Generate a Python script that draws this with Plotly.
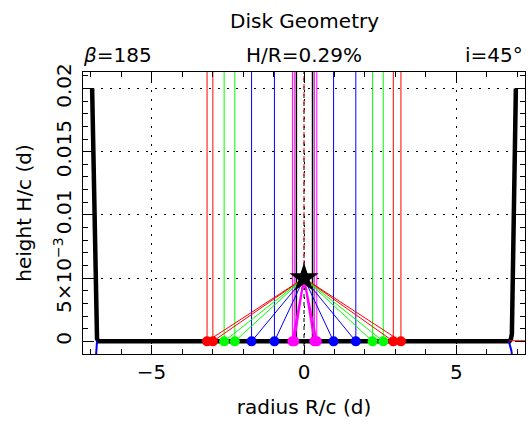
import plotly.graph_objects as go

# Disk surface profile H(R)
disk_r = [-6.95, -6.82, -6.79, -6.74, 6.74, 6.79, 6.82, 6.95]
disk_h = [0.020, 0.0006, 0.0002, 0.0, 0.0, 0.0002, 0.0006, 0.020]

# Lower-side edge traces at the disk rim
rim_left_r = [-6.79, -6.80, -6.82]
rim_left_h = [0.0, -0.0005, -0.001]
rim_right_r = [6.72, 6.76, 6.80, 6.82]
rim_right_h = [0.0, -0.0003, -0.0007, -0.001]
rim_red_r = [6.72, 7.3]
rim_red_h = [0.00005, 0.00005]

# Observer point and the emitting radii of each ring group
star_r = 0.0
star_h = 0.005
ring_groups = {
    "#ff0000": [-3.18, -2.99, 2.93, 3.18],
    "#00ff00": [-2.62, -2.27, 2.25, 2.60],
    "#0000ff": [-1.72, -0.97, 0.97, 1.70],
    "#ff00ff": [-0.38, -0.32, 0.34, 0.42],
}
inner_r = [-0.25, 0.28]

x_range = [-7.25, 7.25]
y_range = [-0.001, 0.0213]
y_tickvals = [0, 0.005, 0.01, 0.015, 0.02]
y_ticktext = ["0", "5×10<sup>−3</sup>", "0.01", "0.015", "0.02"]

FONT = "DejaVu Sans"
FS = 20

fig = go.Figure()

# central dashed axis (black below, red/black alternating above the observer)
fig.add_trace(go.Scatter(x=[0, 0], y=[y_range[0], y_range[1]], mode="lines",
                         line=dict(color="black", width=1, dash="4px,4px"),
                         hoverinfo="skip"))
fig.add_trace(go.Scatter(x=[0, 0], y=[y_range[1], star_h], mode="lines",
                         line=dict(color="#ff0000", width=1,
                                   dash="0px,4px,4px,0px"),
                         hoverinfo="skip"))

# vertical sight lines rising from each ring point
for color, radii in ring_groups.items():
    xs, ys = [], []
    for r in radii:
        xs += [r, r, None]
        ys += [0, y_range[1], None]
    fig.add_trace(go.Scatter(x=xs, y=ys, mode="lines",
                             line=dict(color=color, width=1), hoverinfo="skip"))

xs, ys = [], []
for r in inner_r:
    xs += [r, r, None]
    ys += [0, y_range[1], None]
fig.add_trace(go.Scatter(x=xs, y=ys, mode="lines",
                         line=dict(color="black", width=1.5), hoverinfo="skip"))

# rays from the observer to each ring point
for color, radii in ring_groups.items():
    xs, ys = [], []
    for r in radii:
        xs += [star_r, r, None]
        ys += [star_h, 0, None]
    w = 1.8 if color == "#ff00ff" else 1
    fig.add_trace(go.Scatter(x=xs, y=ys, mode="lines",
                             line=dict(color=color, width=w), hoverinfo="skip"))

# disk surface
fig.add_trace(go.Scatter(x=disk_r, y=disk_h, mode="lines",
                         line=dict(color="black", width=4.5, shape="linear"),
                         hoverinfo="skip"))
fig.add_trace(go.Scatter(x=rim_left_r, y=rim_left_h, mode="lines",
                         line=dict(color="#0000ff", width=2), hoverinfo="skip"))
fig.add_trace(go.Scatter(x=rim_right_r, y=rim_right_h, mode="lines",
                         line=dict(color="#0000ff", width=2), hoverinfo="skip"))
fig.add_trace(go.Scatter(x=rim_red_r, y=rim_red_h, mode="lines",
                         line=dict(color="#ff0000", width=1), hoverinfo="skip"))

# ring points on the disk plane
for color, radii in ring_groups.items():
    fig.add_trace(go.Scatter(x=radii, y=[0] * len(radii), mode="markers",
                             marker=dict(color=color, size=10, line=dict(width=0)),
                             cliponaxis=False, hoverinfo="skip"))

# observer
fig.add_trace(go.Scatter(x=[star_r], y=[star_h], mode="markers",
                         marker=dict(symbol="star", color="black", size=22,
                                     line=dict(width=0)),
                         hoverinfo="skip"))

axis_common = dict(
    showline=True, linecolor="black", linewidth=1.2, mirror="allticks",
    ticks="inside", ticklen=9, tickwidth=1, tickcolor="black",
    showgrid=True, gridcolor="black", gridwidth=1, griddash="2px,7px",
    zeroline=False, tickfont=dict(family=FONT, size=FS, color="black"),
)

fig.update_xaxes(range=x_range, tickvals=[-5, 0, 5],
                 minor=dict(dtick=1, ticks="inside", ticklen=5, tickcolor="black",
                            showgrid=False),
                 title=dict(text="radius R/c (d)",
                            font=dict(family=FONT, size=FS, color="black"),
                            standoff=16),
                 **axis_common)
fig.update_yaxes(range=y_range, tickvals=y_tickvals, ticktext=y_ticktext,
                 tickangle=-90, ticklabelstandoff=3,
                 minor=dict(dtick=0.001, tick0=0, ticks="inside", ticklen=5,
                            tickcolor="black", showgrid=False),
                 title=dict(text="height H/c (d)",
                            font=dict(family=FONT, size=FS, color="black"),
                            standoff=12),
                 **axis_common)

txt = dict(family=FONT, size=FS, color="black")
fig.add_annotation(text="Disk Geometry", xref="paper", yref="paper", x=0.5, y=1,
                   yshift=51, yanchor="middle", xanchor="center",
                   showarrow=False, font=txt)
fig.add_annotation(text="<i>β</i>=185", xref="paper", yref="paper", x=0, y=1,
                   yanchor="middle", xanchor="left", yshift=17, xshift=-2,
                   showarrow=False, font=txt)
fig.add_annotation(text="H/R=0.29%", xref="paper", yref="paper", x=0.5, y=1,
                   yanchor="middle", xanchor="center", yshift=17,
                   showarrow=False, font=txt)
fig.add_annotation(text="i=45°", xref="paper", yref="paper", x=1, y=1,
                   yanchor="middle", xanchor="right", yshift=17,
                   showarrow=False, font=txt)

fig.update_layout(
    width=528, height=435,
    margin=dict(l=83, r=3, t=72, b=81),
    paper_bgcolor="white", plot_bgcolor="white",
    showlegend=False,
)

fig.write_html("out.html")
